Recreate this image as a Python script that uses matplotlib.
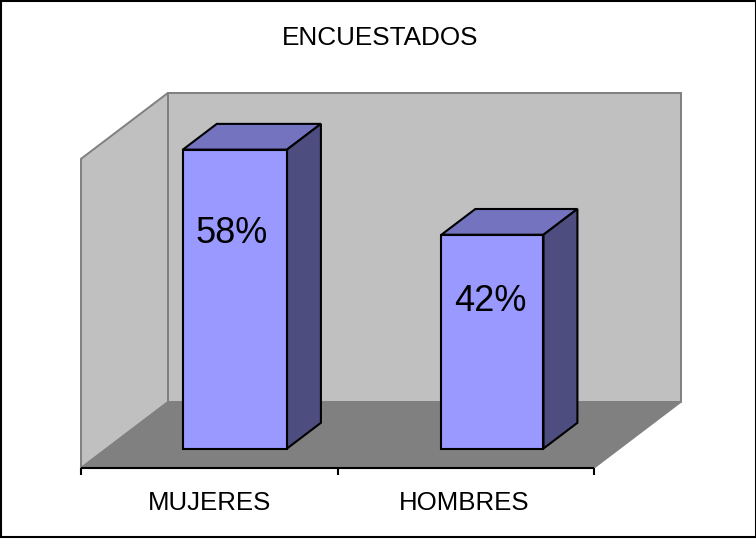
import matplotlib
matplotlib.use("Agg")
import matplotlib.pyplot as plt
from matplotlib.patches import Polygon, Rectangle

plt.rcParams['font.family'] = ['Liberation Sans', 'DejaVu Sans']

title = "ENCUESTADOS"
categories = ["MUJERES", "HOMBRES"]
values = [58.3, 41.7]
value_labels = ["58%", "42%"]

W, H = 756, 539
fig = plt.figure(figsize=(W / 100, H / 100), dpi=100, facecolor="white")
ax = fig.add_axes([0, 0, 1, 1])
ax.set_xlim(0, W)
ax.set_ylim(H, 0)
ax.axis("off")

# oblique projection of the 3-D chart box (pixel layout of the plot frame)
X0, Y0 = 81, 468
CAT_W = 256.5
UNIT = 5.127
DX, DY = 87, -66
YMAX = 60.3


def proj(cat, val, depth):
    """cat in category units, val in data units, depth 0..1."""
    return (X0 + cat * CAT_W + depth * DX, Y0 - val * UNIT + depth * DY)


def face(pts, fc, z=2, lw=1.5, ec="black"):
    ax.add_patch(Polygon([proj(*p) for p in pts], closed=True, facecolor=fc,
                         edgecolor=ec, linewidth=lw, zorder=z, joinstyle="miter"))


n = len(categories)
face([(0, 0, 0), (0, 0, 1), (0, YMAX, 1), (0, YMAX, 0)], "#C0C0C0", lw=1.4, ec="#808080")
face([(0, 0, 1), (n, 0, 1), (n, YMAX, 1), (0, YMAX, 1)], "#C0C0C0", lw=1.4, ec="#808080")
face([(0, 0, 0), (n, 0, 0), (n, 0, 1), (0, 0, 1)], "#808080", lw=1.0, ec="#808080")

BAR_LEFT = (0.297, 0.305)
BAR_RIGHT = (0.703, 0.703)
D0, D1 = 0.295, 0.685
for i, v in enumerate(values):
    l, r = i + BAR_LEFT[i], i + BAR_RIGHT[i]
    face([(l, 0, D0), (r, 0, D0), (r, v, D0), (l, v, D0)], "#9999FF", z=5)
    face([(l, v, D0), (r, v, D0), (r, v, D1), (l, v, D1)], "#7373BF", z=4)
    face([(r, 0, D0), (r, 0, D1), (r, v, D1), (r, v, D0)], "#4D4D80", z=4)

for (lab, v, i, dy) in zip(value_labels, values, range(n), (84, 67)):
    x, y = proj(i + 0.5, v, D0)
    ax.text(x - 3 if i == 0 else x - 1, y + dy, lab, fontsize=26, ha="center", va="center", zorder=6, color="black")

# category axis
ax.plot(*zip(proj(0, 0, 0), proj(n, 0, 0)), color="black", lw=1.5, zorder=3, solid_capstyle="butt")
for k in range(n + 1):
    x, y = proj(k, 0, 0)
    ax.plot([x, x], [y, y + 7], color="black", lw=1.5, zorder=3, solid_capstyle="butt")
for i, c in enumerate(categories):
    x, y = proj(i + 0.5, 0, 0)
    ax.text(x if i == 0 else x - 2, y + 35, c, fontsize=18.6, ha="center", va="center", color="black")

ax.text(380, 38, title, fontsize=18.8, ha="center", va="center", color="black")

ax.add_patch(Rectangle((0.5, 0.5), W - 1, H - 3, facecolor="none", edgecolor="black", lw=1.5, zorder=10))

fig.savefig("out.png", dpi=100)
